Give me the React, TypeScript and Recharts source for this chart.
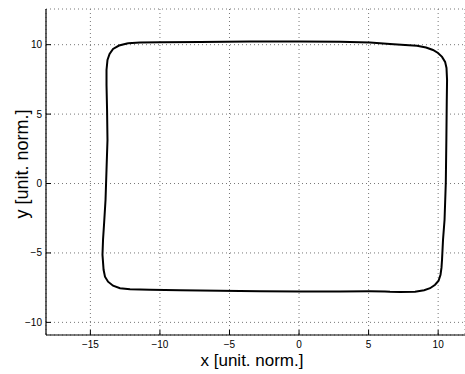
import { LineChart, Line, XAxis, YAxis, CartesianGrid } from 'recharts'

// trajectory, clockwise from the top-left corner
const pathX = [
  -12.29, -11.43, -9.99, -7.12, -3.52, 0.07, 2.95, 5.1, 6.54, 7.62, 8.48, 9.13, 9.63, 9.99, 10.28,
  10.5, 10.6, 10.64, 10.62, 10.59, 10.55, 10.46, 10.35, 10.28, 10.24, 10.17, 10.03, 9.78, 9.42,
  8.99, 8.34, 7.26, 6.54, 6.18, 5.1, 2.95, 0.07, -2.8, -5.68, -8.55, -10.71, -12.15, -12.87,
  -13.37, -13.73, -13.95, -14.05, -14.13, -14.09, -14.02, -13.91, -13.84, -13.77, -13.8, -13.84,
  -13.84, -13.77, -13.62, -13.37, -12.94, -12.29,
]
const pathY = [
  10.1, 10.16, 10.17, 10.19, 10.23, 10.23, 10.22, 10.16, 10.05, 9.98, 9.93, 9.8, 9.62, 9.4, 9.12,
  8.76, 8.32, 7.46, 6.02, 3.14, 0.05, -2.61, -4.05, -5.47, -6.06, -6.57, -7.0, -7.29, -7.54,
  -7.68, -7.79, -7.81, -7.8, -7.77, -7.76, -7.77, -7.77, -7.76, -7.72, -7.68, -7.65, -7.61,
  -7.54, -7.36, -7.07, -6.71, -6.21, -5.13, -4.05, -2.97, -1.17, 0.99, 3.14, 5.3, 7.1, 8.18,
  8.9, 9.33, 9.69, 9.94, 10.1,
]

const xTicks = [-15, -10, -5, 0, 5, 10]
const yTicks = [-10, -5, 0, 5, 10]
const xDomain = [-18.19, 11.93]
const yDomain = [-10.91, 12.57]

const data = pathX.map((x, i) => ({ x, y: pathY[i] }))

const font = '"Liberation Sans", Arial, Helvetica, sans-serif'
const fmt = (v: number) => (v < 0 ? '\u2212' + Math.abs(v) : String(v))
const tickStyle = { fill: '#000', fontSize: 10, fontFamily: font }

export default function App() {
  return (
    <div style={{ position: 'absolute', left: 0, top: 0, width: 465, height: 374, background: '#fff' }}>
      <LineChart width={465} height={374} data={data} margin={{ top: 9, right: 0, bottom: 0, left: 0 }}>
        <CartesianGrid stroke="#777" strokeDasharray="1 3" strokeWidth={1} />
        <XAxis
          dataKey="x"
          type="number"
          domain={xDomain}
          ticks={xTicks}
          allowDataOverflow
          height={39}
          tickSize={-5}
          tickMargin={11}
          tickFormatter={fmt}
          tick={tickStyle}
          axisLine={{ stroke: '#000', strokeWidth: 1.2 }}
          tickLine={{ stroke: '#000' }}
          label={{
            content: () => (
              <text x={252} y={366} textAnchor="middle" fontSize={17} fontFamily={font} fill="#000">
                x [unit. norm.]
              </text>
            ),
          }}
        />
        <XAxis
          xAxisId="top"
          orientation="top"
          type="number"
          domain={xDomain}
          ticks={xTicks}
          allowDataOverflow
          height={0}
          tickSize={-5}
          tick={false}
          axisLine={{ stroke: '#000', strokeWidth: 1.2 }}
          tickLine={{ stroke: '#000' }}
        />
        <YAxis
          type="number"
          domain={yDomain}
          ticks={yTicks}
          allowDataOverflow
          width={46}
          tickSize={-5}
          tickMargin={9}
          tickFormatter={fmt}
          tick={tickStyle}
          axisLine={{ stroke: '#000', strokeWidth: 1.2 }}
          tickLine={{ stroke: '#000' }}
          label={{
            content: () => (
              <text
                x={28}
                y={164}
                transform="rotate(-90 28 164)"
                textAnchor="middle"
                fontSize={18}
                fontFamily={font}
                fill="#000"
              >
                y [unit. norm.]
              </text>
            ),
          }}
        />
        <Line
          dataKey="y"
          type="linear"
          stroke="#000"
          strokeWidth={2}
          dot={false}
          isAnimationActive={false}
        />
      </LineChart>
    </div>
  )
}
